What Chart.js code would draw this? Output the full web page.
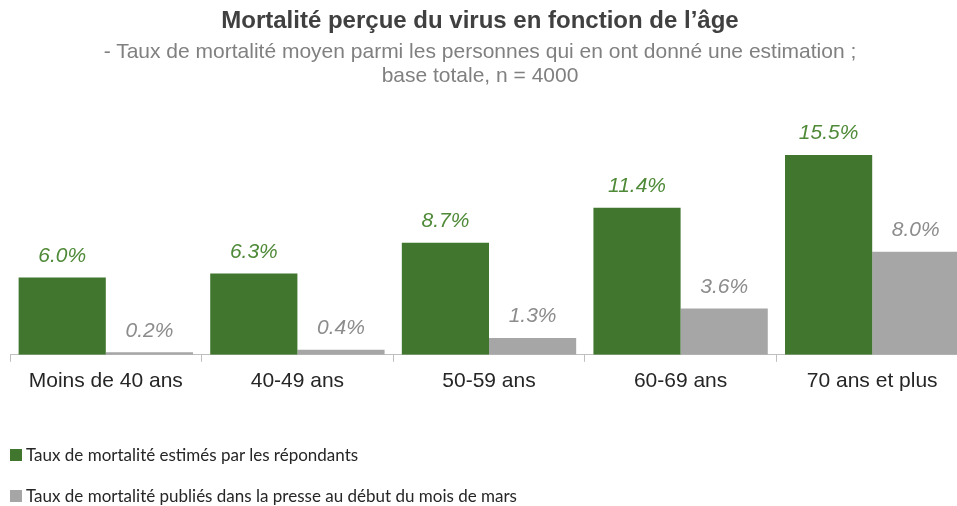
<!DOCTYPE html>
<html>
<head>
<meta charset="utf-8">
<script src="https://cdn.jsdelivr.net/npm/chart.js@4"></script>
<style>
  html, body { margin: 0; padding: 0; background: #fff; overflow: hidden; }
  #wrap { position: relative; width: 957px; height: 506px; overflow: hidden; }
  #myChart { position: absolute; left: 0; top: 0; }
  #head { position: absolute; left: 0; top: 0; width: 960px; text-align: center; font-family: "Liberation Sans", Arial, sans-serif; }
  #title { position: absolute; left: 0; top: 6px; width: 960px; font-size: 24px; line-height: 28px; font-weight: bold; color: #404040; }
  #subtitle { position: absolute; left: 0; top: 39px; width: 960px; font-size: 21px; line-height: 24px; color: #808080; }
  #legend { position: absolute; left: 10px; top: 444px; font-family: Lato, sans-serif; font-size: 17px; color: #262626; }
  .item { height: 41px; display: flex; align-items: flex-start; }
  .box { width: 12px; height: 12px; margin: 5px 4px 0 0; }
</style>
</head>
<body>
<div id="wrap">
  <canvas id="myChart" width="968" height="506"></canvas>
  <div id="head">
    <div id="title"></div>
    <div id="subtitle"></div>
  </div>
  <div id="legend"></div>
</div>
<script>
var titleText = "Mortalité perçue du virus en fonction de l’âge";
var subtitleLines = ["- Taux de mortalité moyen parmi les personnes qui en ont donné une estimation ;",
                     "base totale, n = 4000"];
var categories = ["Moins de 40 ans", "40-49 ans", "50-59 ans", "60-69 ans", "70 ans et plus"];
var estimated = [6.0, 6.3, 8.7, 11.4, 15.5];
var published = [0.2, 0.4, 1.3, 3.6, 8.0];
var seriesNames = ["Taux de mortalité estimés par les répondants",
                   "Taux de mortalité publiés dans la presse au début du mois de mars"];
var barColors = ["#41762e", "#a6a6a6"];
var labelColors = ["#4f8a38", "#8c8c8c"];

document.getElementById('title').textContent = titleText;
document.getElementById('subtitle').innerHTML = subtitleLines.join("<br>");

// draws the value above every bar
var valueLabels = {
    id: 'valueLabels',
    afterDatasetsDraw: function (chart) {
        var ctx = chart.ctx;
        ctx.save();
        ctx.font = "italic 21px 'Liberation Sans', Arial, sans-serif";
        ctx.textAlign = "center";
        ctx.textBaseline = "bottom";
        chart.data.datasets.forEach(function (ds, i) {
            var meta = chart.getDatasetMeta(i);
            ctx.fillStyle = labelColors[i];
            meta.data.forEach(function (bar, j) {
                ctx.fillText(ds.data[j].toFixed(1) + "%", bar.x, bar.y - 11);
            });
        });
        ctx.restore();
    }
};

var ctx = document.getElementById('myChart').getContext('2d');
var myChart = new Chart(ctx, {
    type: 'bar',
    data: {
        labels: categories,
        datasets: [{
            label: seriesNames[0],
            data: estimated,
            backgroundColor: barColors[0],
            categoryPercentage: 0.91,
            barPercentage: 1.0
        }, {
            label: seriesNames[1],
            data: published,
            backgroundColor: barColors[1],
            categoryPercentage: 0.91,
            barPercentage: 1.0
        }]
    },
    options: {
        responsive: false,
        animation: false,
        layout: { padding: { left: 10, right: 0, top: 97, bottom: 105 } },
        scales: {
            x: {
                grid: { drawOnChartArea: false, tickLength: 7, color: "#bfbfbf" },
                border: { color: "#bfbfbf" },
                ticks: {
                    color: "#262626",
                    padding: 7,
                    font: { family: "'Liberation Sans', Arial, sans-serif", size: 21 }
                }
            },
            y: {
                display: false,
                min: 0,
                max: 20
            }
        },
        plugins: {
            legend: { display: false },
            tooltip: { enabled: false }
        }
    },
    plugins: [valueLabels]
});

// legend below the chart, one series per line
var legend = document.getElementById('legend');
seriesNames.forEach(function (name, i) {
    var item = document.createElement('div');
    item.className = 'item';
    var box = document.createElement('span');
    box.className = 'box';
    box.style.background = barColors[i];
    var txt = document.createElement('span');
    txt.textContent = name;
    item.appendChild(box);
    item.appendChild(txt);
    legend.appendChild(item);
});
</script>
</body>
</html>
